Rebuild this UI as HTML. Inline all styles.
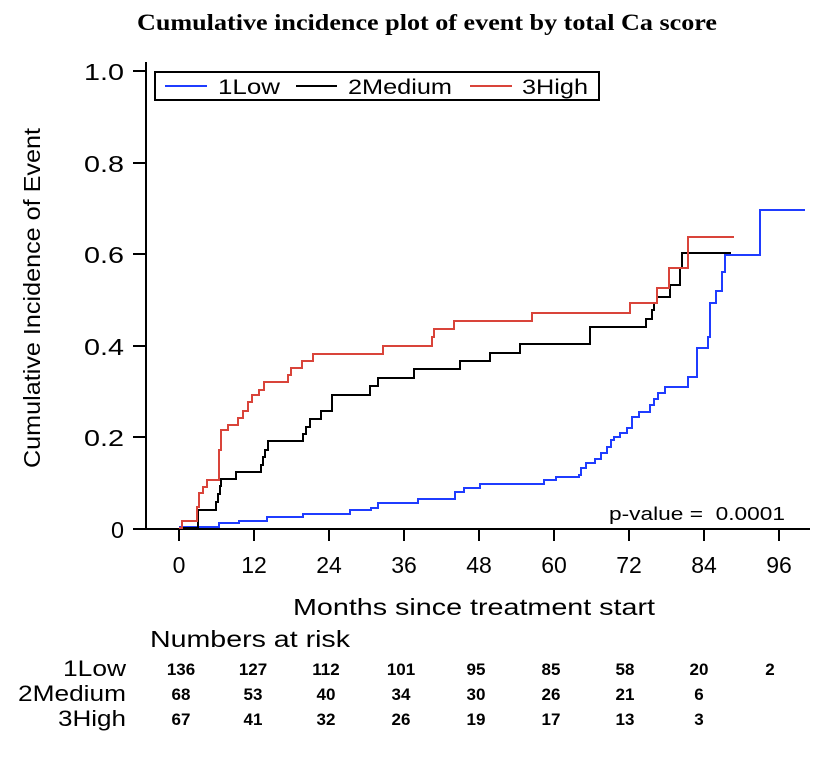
<!DOCTYPE html>
<html><head><meta charset="utf-8"><style>
html,body{margin:0;padding:0;background:#fff;}
svg{display:block;font-family:"Liberation Sans",sans-serif;}
</style></head><body>
<svg width="832" height="770" viewBox="0 0 832 770" xmlns="http://www.w3.org/2000/svg">
<text x="137" y="30" textLength="580" lengthAdjust="spacingAndGlyphs" font-family="Liberation Serif,serif" font-weight="bold" font-size="23">Cumulative incidence plot of event by total Ca score</text>
<g stroke="#000" stroke-width="2" fill="none">
<line x1="146" y1="62" x2="146" y2="530"/>
<line x1="133" y1="529" x2="810" y2="529"/>
<line x1="133" y1="71" x2="146" y2="71"/>
<line x1="133" y1="163" x2="146" y2="163"/>
<line x1="133" y1="254" x2="146" y2="254"/>
<line x1="133" y1="346" x2="146" y2="346"/>
<line x1="133" y1="437" x2="146" y2="437"/>
<line x1="133" y1="529" x2="146" y2="529"/>
<line x1="179" y1="529" x2="179" y2="541"/>
<line x1="254" y1="529" x2="254" y2="541"/>
<line x1="329" y1="529" x2="329" y2="541"/>
<line x1="404" y1="529" x2="404" y2="541"/>
<line x1="479" y1="529" x2="479" y2="541"/>
<line x1="554" y1="529" x2="554" y2="541"/>
<line x1="629" y1="529" x2="629" y2="541"/>
<line x1="704" y1="529" x2="704" y2="541"/>
<line x1="779" y1="529" x2="779" y2="541"/>
</g>
<g font-size="23">
<text x="84" y="80" textLength="40" lengthAdjust="spacingAndGlyphs">1.0</text>
<text x="84" y="172" textLength="40" lengthAdjust="spacingAndGlyphs">0.8</text>
<text x="84" y="263" textLength="40" lengthAdjust="spacingAndGlyphs">0.6</text>
<text x="84" y="355" textLength="40" lengthAdjust="spacingAndGlyphs">0.4</text>
<text x="84" y="446" textLength="40" lengthAdjust="spacingAndGlyphs">0.2</text>
<text x="111" y="538" textLength="13" lengthAdjust="spacingAndGlyphs">0</text>
</g>
<g font-size="23" text-anchor="middle">
<text x="179" y="573">0</text>
<text x="254" y="573">12</text>
<text x="329" y="573">24</text>
<text x="404" y="573">36</text>
<text x="479" y="573">48</text>
<text x="554" y="573">60</text>
<text x="629" y="573">72</text>
<text x="704" y="573">84</text>
<text x="779" y="573">96</text>
</g>
<text x="293" y="615" font-size="23" textLength="362" lengthAdjust="spacingAndGlyphs">Months since treatment start</text>
<text transform="translate(40,468) rotate(-90)" font-size="23" textLength="340" lengthAdjust="spacingAndGlyphs">Cumulative Incidence of Event</text>
<text x="609" y="520" font-size="18" textLength="176" lengthAdjust="spacingAndGlyphs" xml:space="preserve">p-value =  0.0001</text>
<rect x="155" y="72" width="444" height="28" fill="none" stroke="#000" stroke-width="2"/>
<line x1="165" y1="86" x2="207" y2="86" stroke="#1f3cff" stroke-width="2"/>
<text x="218" y="94" font-size="21" textLength="62" lengthAdjust="spacingAndGlyphs">1Low</text>
<line x1="296" y1="86" x2="337" y2="86" stroke="#000" stroke-width="2"/>
<text x="348" y="94" font-size="21" textLength="104" lengthAdjust="spacingAndGlyphs">2Medium</text>
<line x1="470" y1="86" x2="512" y2="86" stroke="#d9443a" stroke-width="2"/>
<text x="522" y="94" font-size="21" textLength="66" lengthAdjust="spacingAndGlyphs">3High</text>
<g fill="none" stroke-width="2">
<polyline stroke="#1f3cff" points="179,527 219,527 219,523 239,523 239,521 267,521 267,517 303,517 303,514 350,514 350,510 371,510 371,508 378,508 378,503 418,503 418,499 455,499 455,492 464,492 464,488 480,488 480,484 544,484 544,480 556,480 556,477 579,477 579,475 581,475 581,468 586,468 586,463 595,463 595,459 601,459 601,453 607,453 607,447 611,447 611,440 614,440 614,437 620,437 620,433 627,433 627,428 632,428 632,417 639,417 639,412 650,412 650,405 654,405 654,399 658,399 658,393 665,393 665,387 688,387 688,377 697,377 697,348 708,348 708,337 710,337 710,303 716,303 716,291 722,291 722,272 725,272 725,255 760,255 760,210 805,210"/>
<polyline stroke="#000" points="179,528 198,528 198,510 216,510 216,502 218,502 218,494 220,494 220,486 221,486 221,479 236,479 236,472 261,472 261,465 263,465 263,457 265,457 265,450 268,450 268,441 303,441 303,434 306,434 306,427 310,427 310,419 321,419 321,411 332,411 332,395 370,395 370,386 378,386 378,378 414,378 414,369 460,369 460,361 490,361 490,353 520,353 520,344 590,344 590,327 646,327 646,319 652,319 652,310 654,310 654,303 657,303 657,297 670,297 670,285 680,285 680,268 682,268 682,253 731,253"/>
<polyline stroke="#d9443a" points="179,528 182,528 182,521 197,521 197,507 199,507 199,493 203,493 203,487 207,487 207,480 219,480 219,450 221,450 221,430 228,430 228,425 238,425 238,418 243,418 243,411 248,411 248,402 252,402 252,395 259,395 259,390 264,390 264,382 288,382 288,375 291,375 291,368 302,368 302,361 313,361 313,354 383,354 383,346 432,346 432,337 434,337 434,329 454,329 454,321 532,321 532,313 630,313 630,303 657,303 657,288 669,288 669,268 688,268 688,237 734,237"/>
</g>
<text x="150" y="647" font-size="23" textLength="200" lengthAdjust="spacingAndGlyphs">Numbers at risk</text>
<g font-size="22">
<text x="63" y="676" textLength="63" lengthAdjust="spacingAndGlyphs">1Low</text>
<text x="18" y="701" textLength="108" lengthAdjust="spacingAndGlyphs">2Medium</text>
<text x="58" y="726" textLength="68" lengthAdjust="spacingAndGlyphs">3High</text>
</g>
<g font-size="17" font-weight="bold" text-anchor="middle">
<text x="181" y="675">136</text><text x="253" y="675">127</text><text x="326" y="675">112</text><text x="401" y="675">101</text><text x="476" y="675">95</text><text x="551" y="675">85</text><text x="625" y="675">58</text><text x="699" y="675">20</text><text x="770" y="675">2</text>
<text x="181" y="700">68</text><text x="253" y="700">53</text><text x="326" y="700">40</text><text x="401" y="700">34</text><text x="476" y="700">30</text><text x="551" y="700">26</text><text x="625" y="700">21</text><text x="699" y="700">6</text>
<text x="181" y="725">67</text><text x="253" y="725">41</text><text x="326" y="725">32</text><text x="401" y="725">26</text><text x="476" y="725">19</text><text x="551" y="725">17</text><text x="625" y="725">13</text><text x="699" y="725">3</text>
</g>
</svg>
</body></html>
